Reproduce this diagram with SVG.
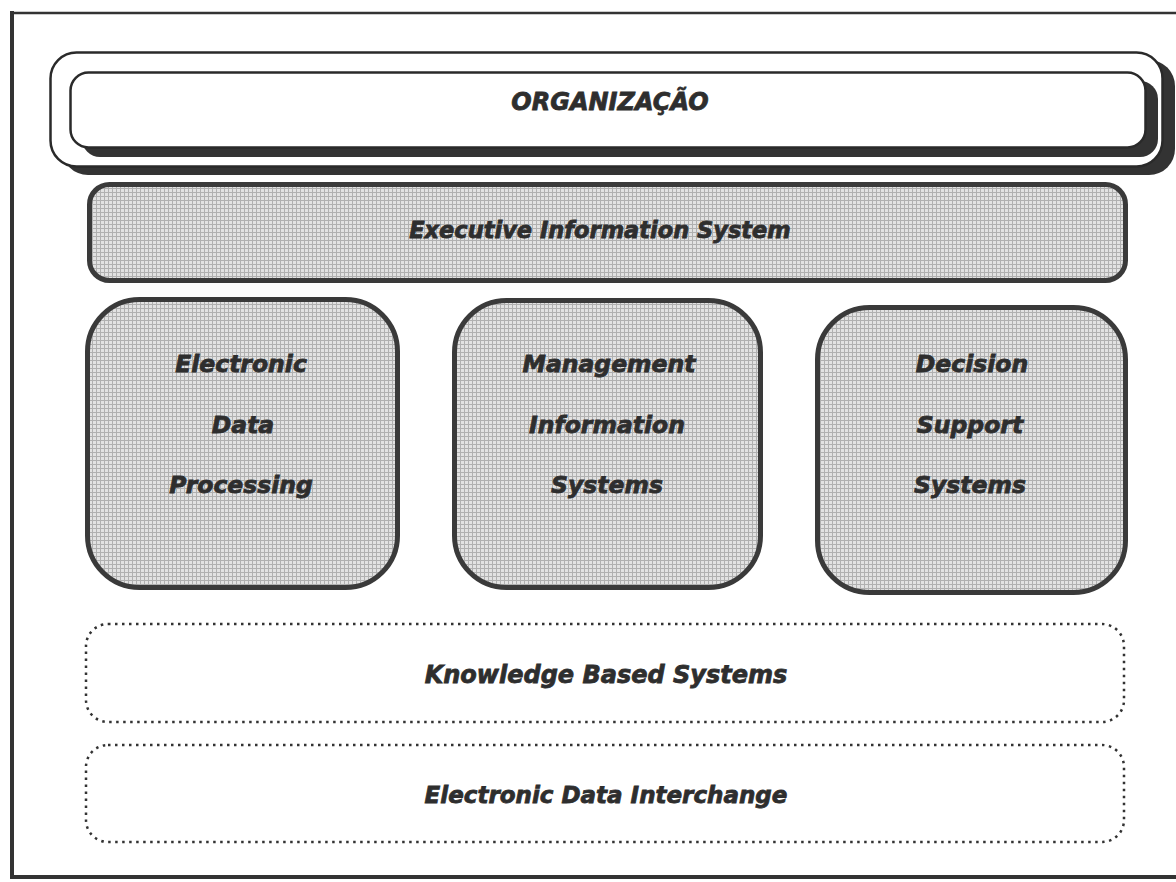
<svg xmlns="http://www.w3.org/2000/svg" width="1176" height="882" viewBox="0 0 1176 882">
<defs>
<pattern id="halftone" width="4" height="4" patternUnits="userSpaceOnUse">
<rect width="4" height="4" fill="#e2e2e2"/>
<rect width="1" height="4" fill="#b0b0b0"/>
<rect width="4" height="1" fill="#b0b0b0"/>
</pattern>
</defs>
<style>
.lbl{font-family:"DejaVu Sans","Liberation Sans",sans-serif;font-weight:bold;font-style:italic;fill:#2e2e2e;stroke:#2e2e2e;stroke-width:0.8;text-anchor:middle}
.shadow{fill:#333333;stroke:none}
.org{fill:#ffffff;stroke:#2a2a2a;stroke-width:2.5}
.solid{fill:url(#halftone);stroke:#3a3a3a;stroke-width:5}
.dotted{fill:none;stroke:#333333;stroke-width:2.5;stroke-dasharray:2.5 4.5}
.frame{stroke:#333333;fill:none}
</style>
<rect width="1176" height="882" fill="#ffffff"/>
<g id="frame">
<line class="frame" x1="12" y1="13" x2="1176" y2="13" stroke-width="2.5"/>
<line class="frame" x1="12" y1="11" x2="12" y2="879" stroke-width="4"/>
<line class="frame" x1="10" y1="877" x2="1176" y2="877" stroke-width="4"/>
</g>
<g id="organizacao">
<rect class="shadow" x="62" y="60" width="1113" height="115" rx="26"/>
<rect class="org" x="50.5" y="52.5" width="1112" height="114" rx="26"/>
<rect class="shadow" x="82" y="81" width="1076" height="76" rx="18"/>
<rect class="org" x="70.5" y="72.5" width="1075" height="75" rx="18"/>
<text class="lbl" x="610" y="110" font-size="24">ORGANIZAÇÃO</text>
</g>
<g id="eis">
<rect class="solid" x="89.5" y="184.5" width="1036" height="96" rx="20"/>
<text class="lbl" x="600" y="238" font-size="22.5">Executive Information System</text>
</g>
<g id="edp">
<rect class="solid" x="87.5" y="299.5" width="310" height="288" rx="52"/>
<text class="lbl" x="241" y="372" font-size="23.5">Electronic</text>
<text class="lbl" x="243" y="433" font-size="23.5">Data</text>
<text class="lbl" x="241" y="493" font-size="23.5">Processing</text>
</g>
<g id="mis">
<rect class="solid" x="454.5" y="300.5" width="306" height="287" rx="52"/>
<text class="lbl" x="609" y="372" font-size="23.5">Management</text>
<text class="lbl" x="607" y="433" font-size="23.5">Information</text>
<text class="lbl" x="607" y="493" font-size="23.5">Systems</text>
</g>
<g id="dss">
<rect class="solid" x="817.5" y="307.5" width="308" height="285" rx="52"/>
<text class="lbl" x="972" y="372" font-size="23.5">Decision</text>
<text class="lbl" x="970" y="433" font-size="23.5">Support</text>
<text class="lbl" x="970" y="493" font-size="23.5">Systems</text>
</g>
<g id="kbs">
<rect class="dotted" x="86" y="624" width="1038" height="98" rx="22"/>
<text class="lbl" x="606" y="683" font-size="24">Knowledge Based Systems</text>
</g>
<g id="edi">
<rect class="dotted" x="86" y="745" width="1038" height="97" rx="22"/>
<text class="lbl" x="606" y="803" font-size="23">Electronic Data Interchange</text>
</g>
<g id="connectors"></g>
</svg>
